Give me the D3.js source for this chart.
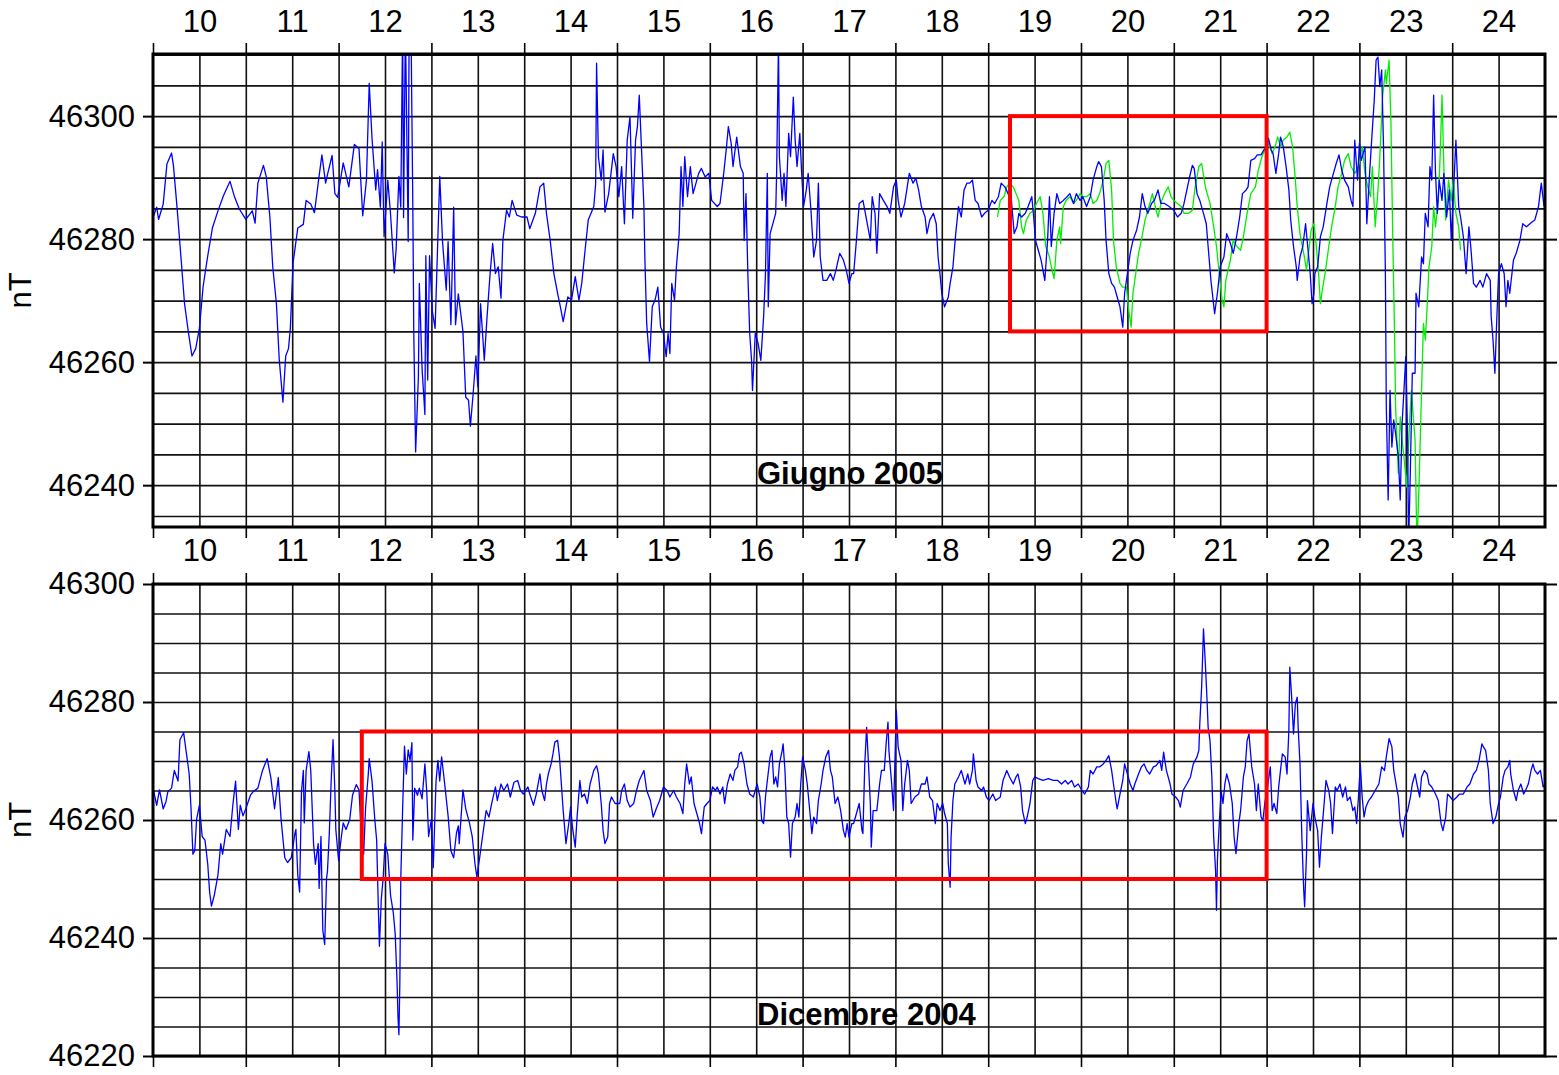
<!DOCTYPE html>
<html>
<head>
<meta charset="utf-8">
<script src="https://cdn.jsdelivr.net/npm/d3@7"></script>
<style>
  body { margin: 0; background: #fff; }
  svg { display: block; }
  text { font-family: "Liberation Sans", Arial, Helvetica, sans-serif; }
</style>
</head>
<body>
<svg id="chart" width="1559" height="1075"></svg>
<script>
// Day-of-month labels (each label sits in the middle of its day)
const days = [10, 11, 12, 13, 14, 15, 16, 17, 18, 19, 20, 21, 22, 23, 24];
const dayLabels = ["10", "11", "12", "13", "14", "15", "16", "17", "18", "19", "20", "21", "22", "23", "24"];
const juneTicks = [46240, 46260, 46280, 46300];
const decTicks = [46220, 46240, 46260, 46280, 46300];

// Giugno 2005, blue trace [day, nT]
const juneBlue = [[10.0,46283.5],[10.04,46285.2],[10.06,46283.2],[10.11,46285.7],[10.15,46292.2],[10.2,46294],[10.22,46292],[10.26,46285],[10.3,46277.3],[10.34,46269.5],[10.38,46265],[10.42,46261],[10.46,46262.2],[10.5,46265.5],[10.54,46272.3],[10.59,46277.3],[10.64,46281.8],[10.7,46284.6],[10.76,46287.1],[10.83,46289.4],[10.88,46286.8],[10.93,46284.9],[11.0,46283.2],[11.07,46284.6],[11.1,46282.6],[11.13,46289.1],[11.19,46292],[11.22,46290.2],[11.26,46283.5],[11.29,46275.6],[11.33,46269.5],[11.36,46260.5],[11.4,46253.5],[11.43,46261],[11.46,46262.2],[11.48,46265.5],[11.51,46276.2],[11.56,46281.8],[11.62,46282.4],[11.65,46286.3],[11.7,46285.7],[11.74,46284.3],[11.78,46289.1],[11.82,46293.7],[11.86,46289.1],[11.88,46290.5],[11.93,46293.6],[11.96,46287.4],[11.99,46286.8],[12.05,46292.4],[12.11,46288.5],[12.17,46295.4],[12.22,46294.7],[12.26,46283.8],[12.3,46289.6],[12.33,46305.3],[12.36,46296.4],[12.4,46288],[12.42,46291.3],[12.45,46285.2],[12.47,46295.8],[12.49,46280.4],[12.53,46289.6],[12.56,46284],[12.6,46274.5],[12.62,46278.4],[12.65,46290.2],[12.67,46285.2],[12.69,46315],[12.7,46283.5],[12.72,46315],[12.75,46279.6],[12.76,46315],[12.78,46315],[12.8,46285],[12.81,46265],[12.83,46245.4],[12.86,46257.7],[12.87,46272.8],[12.9,46258.8],[12.93,46251.5],[12.94,46277.3],[12.96,46257.1],[12.98,46277.3],[13.01,46268.3],[13.04,46265.5],[13.09,46290.2],[13.12,46279.6],[13.16,46271.7],[13.18,46279.6],[13.21,46266.1],[13.24,46285.2],[13.26,46266.1],[13.29,46271.1],[13.34,46265],[13.37,46254.3],[13.4,46253.8],[13.42,46249.6],[13.45,46254.9],[13.48,46261],[13.5,46256],
  [13.53,46269.5],[13.57,46260.3],[13.6,46267.4],[13.63,46273.9],[13.66,46279.3],[13.69,46274.4],[13.72,46275.5],[13.75,46270.4],[13.77,46279.8],[13.81,46284.7],[13.84,46283.6],[13.87,46286.3],[13.92,46283.9],[13.97,46283.6],[14.03,46283.6],[14.06,46281.7],[14.12,46284.2],[14.17,46288.5],[14.21,46289.1],[14.24,46284.2],[14.28,46279.8],[14.32,46274.4],[14.36,46271.2],[14.39,46269],[14.42,46266.6],[14.47,46270.6],[14.51,46270.1],[14.55,46273.9],[14.59,46270.1],[14.62,46272.8],[14.66,46278.8],[14.69,46283.1],[14.75,46285.3],[14.77,46289],[14.78,46308.6],[14.8,46293.4],[14.83,46289.6],[14.85,46294.5],[14.87,46284.4],[14.91,46287.4],[14.96,46293.9],[14.99,46291.8],[15.02,46286.9],[15.05,46291.8],[15.08,46282.5],[15.11,46296.1],[15.14,46299.9],[15.16,46289.1],[15.17,46283.4],[15.2,46296.1],[15.22,46298.3],[15.24,46303.4],[15.26,46296.1],[15.29,46285.3],[15.3,46277.1],[15.32,46266.3],[15.35,46260.1],[15.38,46269],[15.41,46270.1],[15.44,46272.2],[15.47,46265.7],[15.5,46264.7],[15.53,46260.9],[15.55,46264.7],[15.57,46261.4],[15.59,46272.8],[15.62,46270.1],[15.64,46275.5],[15.67,46280.9],[15.69,46291.8],[15.71,46285.3],[15.73,46293.4],[15.76,46286.9],[15.79,46291.8],[15.82,46287.4],[15.88,46290.7],[15.91,46291.5],[15.95,46290.1],[15.99,46290.7],[16.02,46286.3],[16.08,46285.3],[16.11,46285.8],[16.15,46290.7],[16.18,46295],[16.2,46298.3],[16.23,46295.6],[16.25,46291.8],[16.29,46296.6],[16.33,46291.8],[16.36,46290.7],[16.37,46279.8],[16.39,46287.4],[16.41,46274.4],[16.43,46264.7],[16.45,46260.3],[16.46,46255.4],[16.49,46264.7],[16.52,46263.1],[16.55,46260.3],[16.58,46267.4],[16.6,46274.4],[16.62,46290.7],[16.63,46269],[16.65,46280.9],[16.69,46283.1],[16.71,46284.2],[16.72,46290.7],[16.74,46312],[16.75,46293.4],[16.78,46286.3],[16.8,46290.7],[16.82,46285.3],[16.85,46297.2],[16.87,46293.4],[16.9,46303.1],[16.92,46296.1],[16.94,46291.8],[16.97,46297.2],[16.99,46290.7],[17.01,46285.3],[17.04,46288],[17.06,46290.7],[17.09,46284.7],[17.12,46277.1],[17.15,46279.8],[17.17,46289.1],[17.19,46277.1],[17.22,46273.3],[17.26,46273.3],[17.3,46274.4],
  [17.33,46273.3],[17.36,46275],[17.4,46277.7],[17.44,46276.6],[17.47,46275],[17.5,46272.8],[17.53,46274.4],[17.55,46274.4],[17.58,46279.8],[17.61,46285.8],[17.65,46286.3],[17.69,46283.1],[17.73,46279.8],[17.75,46286.9],[17.78,46284.2],[17.8,46277.7],[17.83,46287.4],[17.87,46286.3],[17.91,46285.3],[17.94,46284.2],[17.98,46288.5],[18.01,46289.6],[18.03,46286.3],[18.06,46283.6],[18.1,46285.8],[18.15,46290.7],[18.19,46289.1],[18.22,46289.9],[18.25,46288],[18.28,46285.3],[18.32,46283.6],[18.34,46280.9],[18.37,46283.1],[18.41,46284.2],[18.44,46282.5],[18.46,46277.1],[18.48,46274.4],[18.5,46271.2],[18.53,46269],[18.57,46270.6],[18.59,46272.8],[18.62,46275.5],[18.65,46280.9],[18.68,46285.3],[18.71,46283.6],[18.74,46288],[18.77,46289.1],[18.8,46289.1],[18.83,46289.6],[18.86,46286.3],[18.89,46285.8],[18.93,46283.6],[18.96,46284.2],[19.0,46284.7],[19.04,46286.3],[19.07,46285.8],[19.11,46286.9],[19.14,46289.1],[19.18,46288.5],[19.22,46287.2],[19.25,46286.3],[19.28,46280.9],[19.31,46282],[19.33,46284.2],[19.36,46283.6],[19.4,46284.2],[19.43,46285.3],[19.47,46286.9],[19.49,46283.6],[19.51,46279.8],[19.54,46278.2],[19.57,46276.6],[19.61,46273.3],[19.64,46279.8],[19.66,46286.9],[19.68,46278.8],[19.71,46284.2],[19.74,46287.4],[19.77,46285.8],[19.81,46286.3],[19.85,46286.9],[19.88,46287.4],[19.92,46285.8],[19.95,46287.4],[19.99,46286.3],[20.02,46286.9],[20.06,46285.3],[20.1,46286.9],[20.13,46289.6],[20.17,46291.8],[20.19,46292.6],[20.22,46291.8],[20.25,46286.3],[20.27,46279.8],[20.3,46274.4],[20.33,46272.8],[20.36,46272.2],[20.39,46270.6],[20.42,46269],[20.45,46265.7],[20.47,46271.2],[20.5,46274.4],[20.53,46277.7],[20.56,46279.8],[20.6,46281.5],[20.63,46283.6],[20.66,46287.4],[20.69,46285.3],[20.72,46284.2],[20.76,46285.8],[20.79,46286.3],[20.83,46288],[20.86,46285.8],[20.9,46285.8],[20.95,46285.3],[21.0,46284.7],[21.04,46283.6],[21.08,46284.2],[21.11,46285.8],
  [21.17,46290.1],[21.2,46292],[21.22,46291.5],[21.25,46287.4],[21.28,46286.3],[21.32,46284.2],[21.35,46282.5],[21.37,46278.8],[21.4,46273.3],[21.42,46270.6],[21.44,46267.9],[21.47,46271.2],[21.5,46275.5],[21.54,46277.1],[21.57,46280.9],[21.61,46279.3],[21.64,46277.7],[21.67,46279.8],[21.71,46283.6],[21.74,46287.4],[21.78,46288],[21.8,46288.5],[21.83,46292.8],[21.87,46293.1],[21.9,46293.7],[21.94,46293.7],[21.97,46294.5],[22.0,46295],[22.02,46296.4],[22.05,46294.5],[22.07,46293.9],[22.1,46290.7],[22.13,46293.9],[22.15,46296.6],[22.18,46295],[22.21,46291.8],[22.24,46288],[22.26,46283.1],[22.29,46278.8],[22.32,46275.5],[22.33,46273.3],[22.36,46277.1],[22.39,46278.8],[22.42,46282.5],[22.44,46279.3],[22.47,46274.4],[22.49,46269.5],[22.51,46271.2],[22.52,46274.4],[22.55,46275.5],[22.58,46280.4],[22.61,46282],[22.65,46285.8],[22.68,46288.5],[22.72,46290.7],[22.75,46292.3],[22.78,46293.7],[22.81,46291.2],[22.84,46289.6],[22.88,46288.5],[22.91,46286.3],[22.93,46285.3],[22.95,46296.1],[22.98,46289.6],[23.0,46295.6],[23.02,46292.8],[23.06,46295],[23.08,46282.5],[23.11,46290.7],[23.13,46295.6],[23.16,46302.6],[23.18,46309.1],[23.2,46309.6],[23.22,46304.8],[23.24,46307.5],[23.26,46295],[23.28,46274.4],[23.29,46252.7],[23.31,46237.6],[23.33,46255.4],[23.35,46246.2],[23.37,46250.6],[23.39,46248.4],[23.42,46244.6],[23.44,46237.6],[23.46,46250],[23.48,46255.4],[23.5,46260.9],[23.52,46247.3],[23.53,46230],[23.55,46243],[23.57,46258.2],[23.6,46258.2],[23.61,46271.2],[23.64,46269],[23.67,46277.1],[23.69,46276],[23.71,46284.2],[23.74,46282],[23.76,46291.8],[23.78,46289.6],[23.8,46303.4],[23.82,46290.7],[23.84,46284.2],[23.86,46289.6],[23.89,46286.3],[23.91,46290.7],[23.94,46283.6],[23.97,46288],[23.99,46279.8],[24.02,46289.6],[24.04,46296.1],[24.07,46285.3],[24.09,46283.6],[24.12,46280.4],[24.15,46274.4],[24.18,46282],[24.2,46278.8],[24.23,46272.8],[24.26,46272.2],[24.3,46273.3],[24.33,46272.2],[24.37,46274.4],[24.41,46273.3],[24.42,46267.4],[24.44,46263.6],[24.46,46258.2],[24.48,46266.8],[24.5,46274.4],[24.53,46276],[24.56,46274.4],[24.58,46269],[24.6,46273.3],[24.62,46271.2],[24.66,46276.6],[24.69,46277.7],[24.73,46279.8],[24.76,46282.5],[24.8,46282],[24.86,46282.8],[24.89,46283.1],[24.93,46285.3],[24.96,46289.1],[24.99,46285.3]];

// Giugno 2005, green trace [day, nT]
const juneGreen = [[19.1,46283.6],[19.13,46286.3],[19.17,46286.9],[19.2,46288.5],[19.23,46289.1],[19.27,46288.5],[19.3,46287.4],[19.33,46286.3],[19.36,46282],[19.38,46280.9],[19.41,46283.1],[19.45,46284.2],[19.49,46284.7],[19.52,46285.8],[19.56,46286.9],[19.59,46284.2],[19.62,46278.8],[19.66,46277.1],[19.68,46275.5],[19.71,46273.6],[19.74,46279.8],[19.77,46282],[19.78,46279.3],[19.81,46285.3],[19.84,46286.3],[19.88,46286.9],[19.92,46285.8],[19.95,46286.3],[19.99,46287.4],[20.02,46286.9],[20.06,46286.9],[20.1,46287.4],[20.13,46285.8],[20.17,46286.3],[20.2,46287.4],[20.24,46289.6],[20.27,46292.3],[20.3,46292.8],[20.33,46288],[20.35,46279.8],[20.38,46275.5],[20.42,46272.8],[20.45,46272.2],[20.49,46272.2],[20.51,46269],[20.54,46265.7],[20.56,46271.2],[20.59,46274.4],[20.62,46277.7],[20.65,46279.8],[20.69,46283.1],[20.72,46284.7],[20.75,46286.3],[20.77,46287.4],[20.8,46285.3],[20.83,46283.6],[20.87,46286.3],[20.9,46287.4],[20.94,46288.5],[20.97,46286.9],[21.0,46286.3],[21.04,46285.8],[21.08,46285.3],[21.11,46284.2],
  [21.16,46284.2],[21.2,46284.7],[21.23,46288.5],[21.27,46291.8],[21.3,46292.3],[21.34,46288.5],[21.39,46285.8],[21.43,46282],[21.46,46278.8],[21.49,46274.4],[21.52,46270.1],[21.54,46269],[21.56,46273.3],[21.61,46276.6],[21.64,46279.8],[21.68,46278.8],[21.72,46278.2],[21.75,46280.4],[21.79,46284.2],[21.83,46287.4],[21.88,46288.5],[21.91,46291.2],[21.95,46293.4],[21.98,46294.5],[22.02,46295.6],[22.06,46293.9],[22.09,46295],[22.12,46296.6],[22.15,46295],[22.18,46296.1],[22.22,46296.6],[22.25,46297.4],[22.28,46295],[22.31,46289.6],[22.33,46285.3],[22.36,46280.9],[22.4,46277.7],[22.43,46275],[22.46,46278.8],[22.48,46281.5],[22.51,46282.5],[22.53,46279.8],[22.56,46274.4],[22.58,46269.5],[22.6,46271.7],[22.63,46274.4],[22.67,46278.8],[22.7,46282],[22.74,46285.3],[22.77,46288.5],[22.81,46290.7],[22.84,46292.8],[22.88,46293.9],[22.91,46291.8],[22.95,46290.7],[22.99,46291.8],[23.03,46295],[23.06,46290.7],[23.09,46288.5],[23.12,46286.9],[23.14,46291.8],[23.17,46282],[23.2,46288],[23.22,46293.4],[23.25,46303.1],[23.28,46307.5],[23.29,46305.3],[23.32,46309.1],[23.34,46298.8],[23.36,46279.8],[23.38,46263.6],[23.39,46252.7],[23.42,46241.9],[23.44,46251.1],[23.46,46247.3],[23.48,46244.6],[23.51,46239.7],[23.54,46250],[23.56,46255.4],[23.6,46247.3],[23.62,46230],[23.64,46238.6],[23.67,46255.4],[23.69,46266.3],[23.71,46263.6],[23.73,46269],[23.75,46275.5],[23.78,46278.8],[23.8,46285.3],[23.82,46282],[23.85,46286.3],[23.87,46293.4],[23.89,46303.4],[23.91,46291.8],[23.93,46283.1],[23.96,46289.6],[23.99,46286.3],[24.01,46289.6],[24.04,46284.2],[24.07,46282],[24.09,46278.2]];

// Dicembre 2004, blue trace [day, nT]
const decBlue = [[10.0,46265.4],[10.04,46262.5],[10.07,46265.1],[10.11,46261.9],[10.14,46263.1],[10.16,46264.8],[10.2,46265.4],[10.23,46268.4],[10.27,46266.6],[10.29,46273.6],[10.33,46274.8],[10.36,46271.3],[10.39,46267.8],[10.41,46261.9],[10.43,46254.2],[10.45,46254.8],[10.47,46260.1],[10.5,46262.5],[10.53,46257.2],[10.56,46256.6],[10.59,46252.5],[10.61,46247.8],[10.63,46245.4],[10.66,46247.2],[10.7,46250.7],[10.73,46256],[10.75,46254.2],[10.79,46258.4],[10.83,46257.2],[10.86,46262.5],[10.89,46266.6],[10.92,46258.4],[10.94,46262.5],[10.97,46260.7],[11.0,46261.9],[11.05,46264.2],[11.08,46264.8],[11.13,46265.4],[11.18,46268.4],[11.23,46270.4],[11.27,46267.2],[11.31,46261.9],[11.35,46267.2],[11.38,46260.1],[11.42,46253.6],[11.45,46252.8],[11.49,46253.6],[11.53,46257.8],[11.54,46258.4],[11.56,46250.7],[11.58,46247.8],[11.6,46264.8],[11.62,46268.4],[11.63,46259.5],[11.65,46268.4],[11.68,46271.6],[11.7,46268.4],[11.73,46256],[11.75,46252.5],[11.78,46256],[11.79,46248.4],[11.81,46257.2],[11.83,46241.3],[11.85,46238.9],[11.87,46250.1],[11.88,46251.3],[11.9,46257.8],[11.92,46266.6],[11.94,46273.6],[11.96,46264.8],[11.97,46258.4],[12.0,46253.1],[12.03,46257.2],[12.05,46259.5],[12.08,46258.4],[12.12,46260.1],[12.15,46264.2],[12.19,46266],[12.22,46265.1],[12.24,46258.9],[12.27,46254.2],[12.29,46261.9],[12.32,46267.8],[12.33,46270.4],[12.36,46266.6],[12.39,46260.1],[12.41,46256.6],[12.43,46244.2],[12.44,46238.6],[12.46,46246.6],[12.48,46250.1],[12.5,46256],[12.53,46254.2],[12.56,46247.2],[12.59,46244.2],[12.61,46240.7],[12.63,46232.5],[12.64,46226.6],[12.65,46223.6],[12.66,46232.5],[12.67,46250.1],[12.69,46261.9],[12.71,46272.5],[12.73,46267.8],[12.75,46271.9],[12.77,46270.1],[12.79,46273.1],[12.8,46256.6],[12.82,46265.4],[12.85,46264.2],[12.87,46265.4],[12.9,46263.6],[12.93,46269.5],[12.95,46264.8],[12.97,46257.2],[13.0,46260.1],[13.02,46251.9],[13.05,46266.6],[13.07,46270.1],[13.09,46266.6],[13.11,46270.7],[13.14,46266.6],[13.18,46260.7],[13.21,46254.8],[13.24,46253.6],[13.27,46257.8],[13.29,46259],[13.3,46256],[13.34,46265.1],[13.37,46261.9],[13.41,46259.5],[13.44,46257.2],[13.47,46252.5],[13.49,46250.4],[13.52,46253.6],
  [13.55,46257.1],[13.59,46261.6],[13.62,46260.5],[13.65,46262.8],[13.69,46265.6],[13.71,46263.3],[13.75,46266.1],[13.78,46265],[13.82,46266.1],[13.85,46263.9],[13.89,46266.4],[13.93,46266.7],[13.96,46265],[13.99,46264.4],[14.04,46265.6],[14.06,46264.4],[14.1,46262.5],[14.13,46264.4],[14.17,46267.8],[14.19,46265],[14.22,46263.3],[14.24,46266.1],[14.26,46267.8],[14.29,46269.5],[14.31,46271.2],[14.33,46273.2],[14.36,46273.5],[14.38,46270.7],[14.41,46263.9],[14.42,46261.6],[14.45,46256],[14.48,46259.4],[14.5,46262.2],[14.52,46258.8],[14.55,46255.4],[14.57,46260.5],[14.6,46266.7],[14.62,46263.9],[14.65,46264.4],[14.68,46262.8],[14.71,46266.1],[14.75,46268.4],[14.78,46269.2],[14.8,46267.8],[14.83,46262.8],[14.85,46258.2],[14.87,46256],[14.9,46257.1],[14.92,46262.8],[14.94,46263.9],[14.98,46262.8],[15.03,46262.8],[15.05,46265],[15.08,46266.1],[15.11,46263.3],[15.14,46262.2],[15.18,46262.8],[15.21,46265],[15.24,46266.7],[15.29,46268.4],[15.32,46265],[15.36,46263.3],[15.39,46260.5],[15.43,46262.2],[15.46,46263.3],[15.5,46265.6],[15.54,46265],[15.57,46263.9],[15.61,46265],[15.64,46263.9],[15.68,46262.8],[15.71,46261.1],[15.73,46266.1],[15.75,46269.5],[15.78,46266.1],[15.8,46267.3],[15.83,46262.8],[15.86,46261.1],[15.89,46259.4],[15.91,46257.7],[15.94,46262.2],[15.97,46262.8],[16.0,46263.3],[16.03,46265.6],[16.06,46265],[16.08,46265.6],[16.11,46264.4],[16.14,46265.6],[16.16,46262.8],[16.19,46266.1],[16.22,46267.8],[16.25,46266.7],[16.27,46268.4],[16.3,46269],[16.32,46271.2],[16.34,46271.5],[16.37,46269.5],[16.4,46266.1],[16.43,46264.4],[16.47,46263.9],[16.51,46266.1],[16.54,46263.9],[16.56,46259.9],[16.58,46259.4],[16.6,46263.9],[16.62,46266.7],[16.65,46270.7],[16.67,46271.8],[16.69,46266.1],[16.71,46267.3],[16.73,46265.6],[16.75,46269.5],[16.78,46271.8],[16.79,46272.9],[16.81,46268.4],[16.83,46260.5],[16.85,46259.4],[16.87,46253.7],[16.89,46259.4],[16.92,46260.5],[16.94,46262.8],[16.96,46260.5],[16.98,46266.1],[17.0,46270.7],[17.03,46268.4],[17.05,46266.1],[17.07,46262.8],[17.1,46257.7],[17.12,46260.5],[17.15,46259.4],[17.17,46263.3],[17.2,46266.1],[17.22,46268.4],[17.25,46270.7],[17.28,46271.8],[17.3,46268.4],[17.32,46267.3],
  [17.35,46262.8],[17.38,46263.9],[17.41,46261.6],[17.44,46258.2],[17.46,46257.1],[17.48,46259.4],[17.5,46257.1],[17.53,46259.4],[17.55,46259.4],[17.58,46261.1],[17.61,46262.8],[17.64,46258.2],[17.65,46257.7],[17.67,46269.5],[17.69,46275.7],[17.71,46269.5],[17.73,46262.8],[17.74,46255.4],[17.76,46261.6],[17.8,46261.6],[17.83,46266.1],[17.85,46268.4],[17.88,46268.4],[17.9,46272.9],[17.92,46276.6],[17.93,46271.8],[17.96,46266.1],[17.98,46261.6],[18.0,46272.9],[18.01,46278.6],[18.03,46272.3],[18.06,46270.1],[18.08,46261.6],[18.1,46266.1],[18.13,46270.1],[18.15,46268.4],[18.17,46262.8],[18.21,46263.9],[18.25,46264.4],[18.28,46266.1],[18.32,46266.1],[18.34,46267.3],[18.37,46263.9],[18.4,46263.3],[18.43,46259.4],[18.45,46262.8],[18.48,46261.6],[18.51,46262.8],[18.53,46261.1],[18.56,46259.4],[18.57,46252.6],[18.59,46248.6],[18.6,46257.1],[18.62,46263.3],[18.64,46266.1],[18.68,46267.3],[18.71,46268.4],[18.75,46266.1],[18.78,46267.8],[18.8,46266.1],[18.83,46268.4],[18.84,46271.2],[18.87,46266.7],[18.89,46265.6],[18.93,46265],[18.95,46265.6],[18.98,46263.9],[19.01,46263.3],[19.05,46264.4],[19.08,46263.3],[19.13,46263.9],[19.16,46266.7],[19.2,46268.4],[19.23,46267.3],[19.27,46266.1],[19.3,46267.3],[19.32,46267.8],[19.35,46265.6],[19.37,46261.6],[19.4,46259.4],[19.42,46260.5],[19.45,46262.8],[19.48,46266.7],[19.5,46267.3],[19.54,46267],[19.59,46266.7],[19.65,46267],[19.7,46266.7],[19.75,46266.7],[19.79,46266.1],[19.83,46266.7],[19.86,46266.1],[19.9,46266.7],[19.93,46265.6],[19.97,46266.1],[20.01,46265],[20.04,46264.4],[20.08,46265.6],[20.1,46268.4],[20.13,46267.8],[20.17,46269],[20.2,46269],[20.24,46269.5],[20.27,46270.1],[20.3,46270.9],[20.33,46268.4],[20.35,46266.1],[20.38,46262.8],[20.39,46261.9],[20.42,46264.4],[20.45,46266.7],[20.47,46269.5],[20.5,46267.8],[20.53,46266.1],[20.56,46265],[20.58,46266.1],[20.62,46267.8],[20.65,46269],[20.68,46269.5],[20.71,46268.4],[20.74,46267.8],[20.78,46269],[20.81,46269.2],[20.85,46270.1],[20.87,46268.4],[20.89,46271.5],[20.92,46268.4],[20.96,46266.1],[20.98,46264.4],[21.02,46263.9],[21.05,46263.3],[21.07,46262.2],[21.1,46265],[21.14,46266.1],
  [21.18,46267.3],[21.21,46269.5],[21.25,46270.7],[21.27,46271.8],[21.28,46276.3],[21.3,46282.5],[21.32,46292.4],[21.34,46286.5],[21.36,46279.7],[21.37,46275.7],[21.39,46273.5],[21.41,46267.3],[21.43,46257.1],[21.45,46251.5],[21.46,46244.7],[21.47,46253.2],[21.49,46259.4],[21.51,46265],[21.53,46262.8],[21.55,46266.1],[21.57,46267.8],[21.6,46266.1],[21.63,46262.8],[21.65,46257.1],[21.67,46254.3],[21.7,46259.4],[21.72,46261.6],[21.75,46267.3],[21.77,46269],[21.79,46273.5],[21.81,46274.6],[21.84,46269],[21.87,46266.1],[21.89,46261.6],[21.91,46266.1],[21.94,46260.5],[21.96,46259.9],[21.98,46262.8],[22.01,46265.6],[22.04,46269],[22.06,46261.6],[22.08,46262.8],[22.11,46261.1],[22.13,46265.6],[22.15,46268.4],[22.17,46271.2],[22.2,46270.7],[22.22,46267.8],[22.24,46275.2],[22.25,46285.9],[22.27,46280.8],[22.29,46274.6],[22.31,46279.7],[22.33,46280.8],[22.34,46275.7],[22.36,46269.5],[22.38,46257.1],[22.4,46248.1],[22.41,46245.3],[22.43,46254.3],[22.44,46263.3],[22.47,46258.2],[22.5,46262.8],[22.52,46260.5],[22.55,46258.2],[22.57,46252],[22.59,46257.1],[22.62,46262.8],[22.64,46266.7],[22.67,46265],[22.69,46262.8],[22.71,46257.7],[22.74,46265.6],[22.76,46265],[22.79,46266.1],[22.82,46263.9],[22.85,46265.6],[22.87,46263.3],[22.9,46263.9],[22.93,46261.6],[22.95,46262.2],[22.97,46259.4],[22.99,46263.9],[23.01,46269.5],[23.03,46263.9],[23.05,46260.5],[23.07,46262.2],[23.1,46263.3],[23.13,46263.9],[23.17,46265],[23.21,46266.1],[23.24,46269],[23.27,46268.4],[23.29,46270.7],[23.32,46273.8],[23.35,46272.4],[23.37,46268.4],[23.4,46265.6],[23.42,46263.9],[23.44,46259.4],[23.47,46257.1],[23.49,46260.5],[23.52,46261.6],[23.55,46263.9],[23.57,46266.1],[23.6,46267.8],[23.62,46266.1],[23.65,46263.9],[23.67,46267.3],[23.7,46268.4],[23.73,46267.8],[23.75,46266.1],[23.78,46265.6],[23.82,46264.4],[23.85,46263.3],[23.88,46259.4],[23.9,46258.2],[23.93,46260.5],[23.95,46264.4],[23.98,46263.9],[24.01,46263.3],[24.05,46263.9],[24.08,46264.4],[24.12,46264.4],[24.16,46265.6],[24.19,46266.1],[24.23,46267.8],[24.26,46268.4],[24.29,46270.1],[24.32,46272.9],[24.34,46272.3],[24.36,46271.8],[24.39,46268.4],[24.41,46262.8],[24.44,46259.4],[24.47,46260.5],[24.5,46262.8],[24.52,46263.9],[24.55,46267.3],[24.57,46268.4],[24.6,46269],[24.62,46270.1],[24.63,46267.8],[24.66,46265],[24.69,46263.3],[24.71,46265],[24.74,46266.1],[24.77,46264.4],[24.79,46265],[24.82,46266.1],[24.85,46268.4],[24.87,46269.5],[24.89,46268.4],[24.92,46267.8],[24.95,46268.4],[24.98,46265.6],[25.0,46266.1]];

// Highlight boxes: [day from, day to, nT low, nT high]
const juneBox = [19.235, 22.0, 46265, 46300];
const decBox = [12.25, 22.0, 46250, 46275];

const svg = d3.select("#chart");
const left = 153, right = 1545;
const x = d3.scaleLinear().domain([10, 25]).range([left, right]);
const halfDays = d3.range(10.5, 25, 0.5);
const fontSize = 31;

function drawPanel(p) {
  const y = d3.scaleLinear().domain(p.domain).range([p.bottom, p.top]);
  const g = svg.append("g");
  const h = p.bottom - p.top;

  // grid
  g.append("g")
    .attr("transform", `translate(0,${p.bottom})`)
    .call(d3.axisBottom(x).tickValues(halfDays).tickSize(-h).tickFormat(""))
    .call(a => a.select(".domain").remove())
    .selectAll("line").attr("stroke", "#111").attr("stroke-width", 1.6);

  const gridVals = d3.range(Math.ceil(p.domain[0] / 5) * 5, p.domain[1] + 0.01, 5);
  g.append("g")
    .attr("transform", `translate(${left},0)`)
    .call(d3.axisLeft(y).tickValues(gridVals).tickSize(-(right - left)).tickFormat(""))
    .call(a => a.select(".domain").remove())
    .selectAll("line").attr("stroke", "#111").attr("stroke-width", 1.6);

  // y axis with labels, plus outer ticks on the right
  const ya = g.append("g")
    .attr("transform", `translate(${left},0)`)
    .call(d3.axisLeft(y).tickValues(p.ticks).tickSize(10).tickPadding(8).tickFormat(d3.format("d")));
  ya.select(".domain").remove();
  ya.selectAll("line").attr("stroke", "#000").attr("stroke-width", 2);
  ya.selectAll("text").attr("font-size", fontSize).attr("fill", "#000")
    .style("font-family", '"Liberation Sans", Arial, sans-serif');

  g.append("g")
    .attr("transform", `translate(${right},0)`)
    .call(d3.axisRight(y).tickValues(p.ticks).tickSize(12).tickFormat(""))
    .call(a => a.select(".domain").remove())
    .selectAll("line").attr("stroke", "#000").attr("stroke-width", 2);

  // day ticks above and below the frame
  g.append("g")
    .attr("transform", `translate(0,${p.top})`)
    .call(d3.axisTop(x).tickValues(days).tickSize(11).tickFormat(""))
    .call(a => a.select(".domain").remove())
    .selectAll("line").attr("stroke", "#000").attr("stroke-width", 1.6);
  g.append("g")
    .attr("transform", `translate(0,${p.bottom})`)
    .call(d3.axisBottom(x).tickValues(days).tickSize(11).tickFormat(""))
    .call(a => a.select(".domain").remove())
    .selectAll("line").attr("stroke", "#000").attr("stroke-width", 1.6);

  // day labels
  const lab = g.append("g")
    .attr("transform", `translate(0,${p.top})`)
    .call(d3.axisTop(x).tickValues(days.map(d => d + 0.5)).tickSize(0).tickPadding(p.labelPad)
      .tickFormat((d, i) => dayLabels[i]));
  lab.select(".domain").remove();
  lab.selectAll("text").attr("font-size", fontSize).attr("fill", "#000")
    .style("font-family", '"Liberation Sans", Arial, sans-serif');

  // traces
  const clipId = "clip-" + p.name;
  svg.append("clipPath").attr("id", clipId)
    .append("rect").attr("x", left).attr("y", p.top).attr("width", right - left).attr("height", h);

  const line = d3.line().x(d => x(d[0])).y(d => y(d[1]));
  const traces = g.append("g").attr("clip-path", `url(#${clipId})`);
  p.series.forEach(s => {
    traces.append("path")
      .datum(s.data)
      .attr("fill", "none")
      .attr("stroke", s.color)
      .attr("stroke-width", 1.3)
      .attr("stroke-linejoin", "round")
      .attr("d", line);
  });

  // red box
  const b = p.box;
  g.append("rect")
    .attr("x", x(b[0])).attr("y", y(b[3]))
    .attr("width", x(b[1]) - x(b[0])).attr("height", y(b[2]) - y(b[3]))
    .attr("fill", "none").attr("stroke", "#ff0000").attr("stroke-width", 4);

  // frame
  g.append("rect")
    .attr("x", left).attr("y", p.top)
    .attr("width", right - left).attr("height", h)
    .attr("fill", "none").attr("stroke", "#000").attr("stroke-width", 3);

  // title and unit
  g.append("text")
    .attr("x", 757).attr("y", p.titleY)
    .attr("font-size", fontSize).attr("font-weight", "bold")
    .text(p.title);

  g.append("text")
    .attr("transform", `translate(31,${(p.top + p.bottom) / 2}) rotate(-90)`)
    .attr("text-anchor", "middle")
    .attr("font-size", fontSize)
    .text("nT");
}

drawPanel({
  name: "june",
  top: 54, bottom: 527,
  domain: [46233.2, 46310.1],
  ticks: juneTicks,
  labelPad: 22,
  series: [
    { data: juneGreen, color: "#00ee00" },
    { data: juneBlue, color: "#0000ff" }
  ],
  box: juneBox,
  title: "Giugno 2005",
  titleY: 484
});

drawPanel({
  name: "dec",
  top: 584, bottom: 1056,
  domain: [46220, 46300],
  ticks: decTicks,
  labelPad: 23,
  series: [
    { data: decBlue, color: "#0000ff" }
  ],
  box: decBox,
  title: "Dicembre 2004",
  titleY: 1025
});
</script>
</body>
</html>
